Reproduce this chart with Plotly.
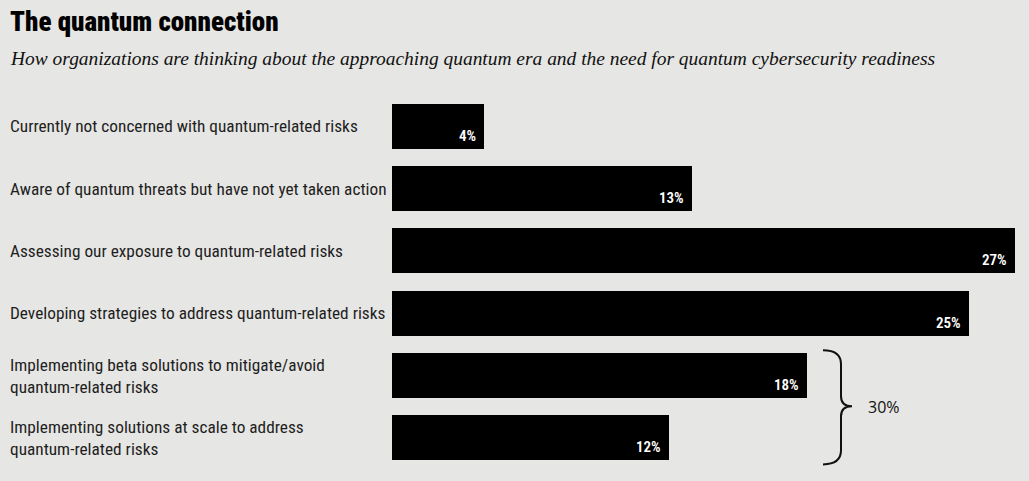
import plotly.graph_objects as go

categories = [
    "Currently not concerned with quantum-related risks",
    "Aware of quantum threats but have not yet taken action",
    "Assessing our exposure to quantum-related risks",
    "Developing strategies to address quantum-related risks",
    "Implementing beta solutions to mitigate/avoid<br>quantum-related risks",
    "Implementing solutions at scale to address<br>quantum-related risks",
]
values = [4, 13, 27, 25, 18, 12]
value_labels = ["4%", "13%", "27%", "25%", "18%", "12%"]
bracket_label = "30%"

title = "The quantum connection"
subtitle = "How organizations are thinking about the approaching quantum era and the need for quantum cybersecurity readiness"

BG = "#e6e6e4"
W, H = 1029, 481
L, R, T, B = 392, 14, 95.4, 12.4
XMAX = 27
pw = W - L - R
ph = H - T - B
n = len(categories)
ypos = list(range(n))

fig = go.Figure()
fig.add_trace(go.Bar(
    x=values, y=ypos, orientation="h",
    marker=dict(color="#000000", line=dict(width=0)),
    width=0.723, hoverinfo="skip",
))

ann = []
label_font = "Roboto Condensed, Liberation Sans Narrow, Roboto, Arial"
for i, (c, v, t) in enumerate(zip(categories, values, value_labels)):
    ann.append(dict(
        x=-(L - 8) / pw, xref="paper", y=i, yref="y",
        text=c, showarrow=False, xanchor="left", yanchor="middle", align="left",
        font=dict(family=label_font, size=17.3, color="#1e1e1e"),
    ))
    ann.append(dict(
        x=v, xref="x", y=i + 0.3617, yref="y",
        text=t, showarrow=False, xanchor="right", yanchor="bottom",
        xshift=-6, yshift=2,
        font=dict(family=label_font, size=15, color="#ffffff", weight=600),
    ))

# title and subtitle
ann.append(dict(
    x=-(L - 8) / pw, xref="paper", y=1 + (T - 23) / ph, yref="paper",
    text=title, showarrow=False, xanchor="left", yanchor="middle",
    font=dict(family="Roboto Condensed, Roboto, Arial", size=27, color="#000000", weight=900),
))
ann.append(dict(
    x=-(L - 8) / pw, xref="paper", y=1 + (T - 59) / ph, yref="paper",
    text="<i>" + subtitle + "</i>", showarrow=False, xanchor="left", yanchor="middle",
    font=dict(family="Liberation Serif, DejaVu Serif, serif", size=19.45, color="#111111"),
))

# brace (pixel -> data conversion)
def px2x(p):
    return (p - L) / pw * XMAX

def px2y(p):
    return (p - T) / ph * n - 0.5

pts = [("M", 823, 350), ("Q", 841, 350, 841, 364), ("L", 841, 396), ("Q", 841, 406, 852, 406),
       ("Q", 841, 406, 841, 416), ("L", 841, 450), ("Q", 841, 464, 823, 464)]
path = ""
for p in pts:
    cmd = p[0]
    coords = p[1:]
    s = []
    for k in range(0, len(coords), 2):
        s.append(f"{px2x(coords[k]):.4f},{px2y(coords[k+1]):.4f}")
    path += cmd + " " + " ".join(s) + " "

fig.add_shape(type="path", path=path.strip(), xref="x", yref="y",
              line=dict(color="#111111", width=2))

ann.append(dict(
    x=px2x(866), xref="x", y=px2y(407), yref="y",
    text=bracket_label, showarrow=False, xanchor="left", yanchor="middle",
    font=dict(family="Open Sans, Arial", size=16, color="#111111"),
))

fig.update_layout(
    width=W, height=H,
    margin=dict(l=L, r=R, t=T, b=B),
    paper_bgcolor=BG, plot_bgcolor=BG,
    showlegend=False,
    bargap=0,
    annotations=ann,
    xaxis=dict(range=[0, XMAX], visible=False, fixedrange=True),
    yaxis=dict(range=[n - 0.5, -0.5], visible=False, fixedrange=True),
)

fig.write_html("out.html", config={"displayModeBar": False},
               post_script="document.body.style.margin='0';document.body.style.background='" + BG + "';")
